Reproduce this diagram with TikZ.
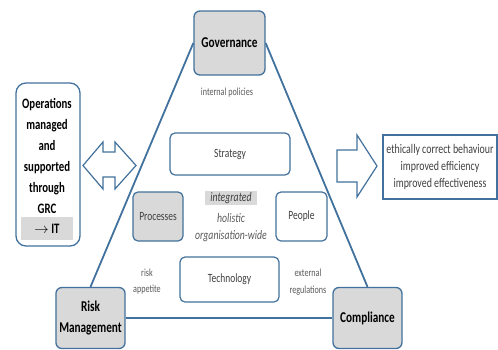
\documentclass[tikz,border=0pt]{standalone}
\usepackage{fontspec}
\setmainfont{Carlito}[FakeStretch=0.75]
\definecolor{edgeblue}{HTML}{41719C}
\definecolor{boxgray}{HTML}{D9D9D9}
\definecolor{softgray}{HTML}{595959}
\definecolor{darkgray}{HTML}{404040}
\pgfdeclarelayer{back}
\pgfsetlayers{back,main}

\begin{document}
\begin{tikzpicture}[x=1pt, y=-1pt]
\tikzstyle{pillar}=[rectangle, rounded corners=6pt, draw=edgeblue, line width=1.3pt, fill=boxgray, minimum width=69pt, minimum height=61pt, align=center, font=\fontsize{15}{21}\selectfont\bfseries]
\tikzstyle{inner}=[rectangle, rounded corners=5pt, draw=edgeblue, line width=1.2pt, fill=white, text=darkgray, font=\fontsize{12.6}{14}\selectfont]
\tikzstyle{note}=[text=softgray, align=center, inner sep=0pt, font=\fontsize{10.8}{16.7}\selectfont]
\tikzstyle{slant}=[inner sep=0pt, font=\fontsize{13}{14}\selectfont\itshape]
\tikzstyle{side}=[draw=edgeblue, line width=1.8pt]
\tikzstyle{bigarrow}=[draw=edgeblue, line width=1.2pt, fill=white, line join=miter]

\useasboundingbox (0,0) rectangle (498,349);

% the three pillars
\node[pillar, minimum width=71pt, minimum height=64pt] at (229.5,43) (gov) {Governance};
\node[pillar] at (90.5,318) (risk) {Risk\\Management};
\node[pillar] at (367.5,318) (comp) {Compliance};

% triangle between them
\begin{pgfonlayer}{back}
\draw[side] (gov.west) -- (risk.north);
\draw[side] (gov.east) -- (comp.north);
\draw[side] (risk.east) -- (comp.west);
\end{pgfonlayer}

% labels along the sides
\node[note] at (227,93) (policies) {internal policies};
\node[note] at (147,281.5) (appetite) {risk\\appetite};
\node[note] at (308,282) (regs) {external\\regulations};

% inside the triangle
\node[inner, minimum width=120pt, minimum height=42pt] at (230,154) (strategy) {Strategy};
\node[inner, minimum width=99pt, minimum height=45pt] at (229.5,279.5) (tech) {Technology};
\node[inner, fill=boxgray, minimum width=50pt, minimum height=49pt] at (158,216.5) (proc) {Processes};
\node[inner, minimum width=51pt, minimum height=49pt] at (301.5,216.5) (people) {People};

\node[slant, fill=boxgray, text=darkgray, minimum width=52pt, minimum height=14pt] at (231,198) (integ) {integrated};
\node[slant, text=softgray] at (231,218) (holist) {holistic};
\node[slant, text=softgray] at (231,236) (orgwide) {organisation-wide};

% operations box on the left
\node[rectangle, rounded corners=10pt, draw=edgeblue, line width=1.3pt, minimum width=64pt, minimum height=163pt] at (48,164.5) (ops) {};
\node[align=center, inner sep=0pt, font=\fontsize{14.4}{21}\selectfont\bfseries] at (47,156) (opstext) {Operations\\managed\\and\\supported\\through\\GRC};
\node[fill=boxgray, minimum width=52pt, minimum height=23pt, inner sep=0pt, font=\fontsize{14.4}{16}\selectfont\bfseries] at (47,228.5) (it) {$\rightarrow$\,IT};

% two-way arrow
\draw[bigarrow] (83,165.5) -- (103,142) -- (103,152) -- (115,152) -- (115,142) -- (136,165.5)
  -- (115,189) -- (115,177) -- (103,177) -- (103,189) -- cycle;

% arrow to the outcomes
\draw[bigarrow] (337,150) -- (357,150) -- (357,135) -- (377,166) -- (357,197) -- (357,182) -- (337,182) -- cycle;

% outcomes
\node[rectangle, draw=edgeblue, line width=1.2pt, minimum width=114pt, minimum height=64pt, align=center, text=darkgray, font=\fontsize{13.2}{17}\selectfont] at (440,167) (goals) {ethically correct behaviour\\improved efficiency\\improved effectiveness};
\end{tikzpicture}
\end{document}
